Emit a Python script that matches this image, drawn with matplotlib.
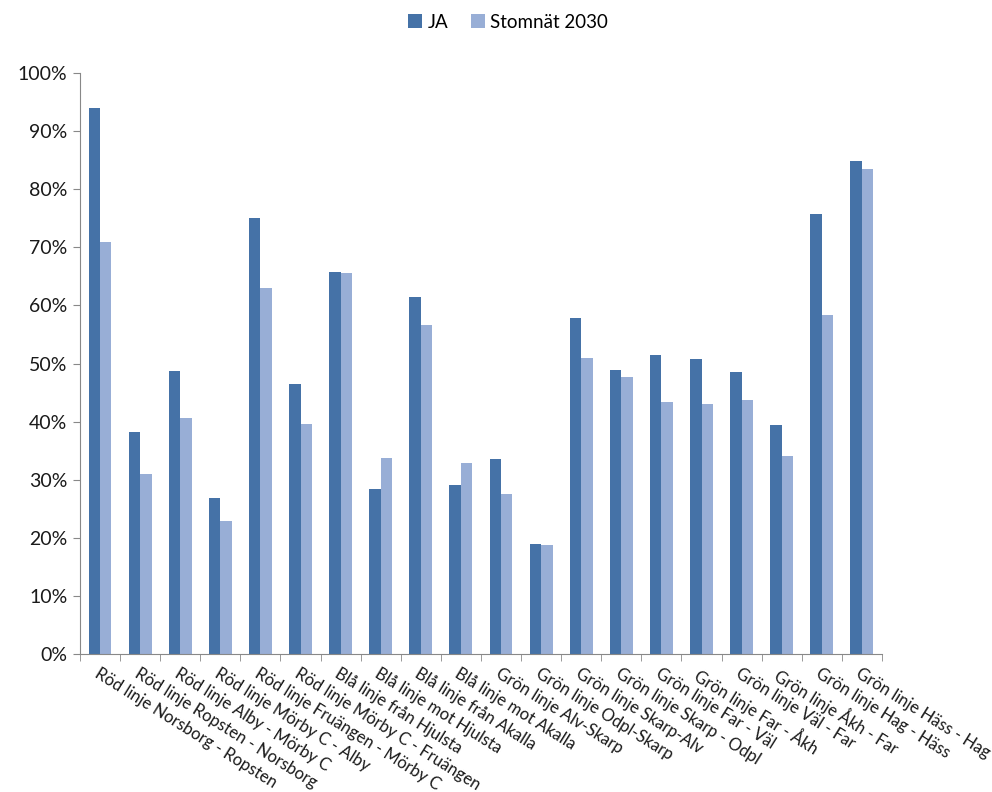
import matplotlib.pyplot as plt
import numpy as np
from matplotlib.ticker import PercentFormatter, FixedLocator

# Data
categories = [
    "Röd linje Norsborg - Ropsten",
    "Röd linje Ropsten - Norsborg",
    "Röd linje Alby - Mörby C",
    "Röd linje Mörby C - Alby",
    "Röd linje Fruängen - Mörby C",
    "Röd linje Mörby C - Fruängen",
    "Blå linje från Hjulsta",
    "Blå linje mot Hjulsta",
    "Blå linje från Akalla",
    "Blå linje mot Akalla",
    "Grön linje Alv-Skarp",
    "Grön linje Odpl-Skarp",
    "Grön linje Skarp-Alv",
    "Grön linje Skarp - Odpl",
    "Grön linje Far - Väl",
    "Grön linje Far - Åkh",
    "Grön linje Väl - Far",
    "Grön linje Åkh - Far",
    "Grön linje Hag - Häss",
    "Grön linje Häss - Hag",
]
ja = [94.0, 38.2, 48.7, 26.8, 75.0, 46.4, 65.7, 28.4, 61.5, 29.1,
      33.5, 18.9, 57.8, 48.9, 51.4, 50.8, 48.5, 39.4, 75.7, 84.9]
stomnat = [71.0, 31.0, 40.7, 22.9, 63.0, 39.6, 65.5, 33.8, 56.6, 32.8,
           27.6, 18.7, 51.0, 47.7, 43.4, 43.1, 43.8, 34.0, 58.4, 83.4]

plt.rcParams['font.family'] = ['Lato', 'DejaVu Sans']

fig = plt.figure(figsize=(9.92, 7.92), dpi=100)
ax = fig.add_axes([0.0806, 0.1742, 0.8085, 0.7336])

x = np.arange(len(categories))
w = 0.286
ax.bar(x - w / 2, np.array(ja) / 100, w, color='#4572A7', label='JA')
ax.bar(x + w / 2, np.array(stomnat) / 100, w, color='#98AED6', label='Stomnät 2030')

ax.set_xlim(-0.5, len(categories) - 0.5)
ax.set_ylim(0, 1)
ax.set_yticks(np.arange(0, 1.01, 0.1))
ax.yaxis.set_major_formatter(PercentFormatter(1.0, decimals=0))

# labels at centres, tick marks between categories
ax.set_xticks(x)
ax.set_xticklabels(categories, rotation=-32, ha='left', va='top',
                   rotation_mode='anchor', fontsize=12, color='#1a1a1a')
ax.xaxis.set_minor_locator(FixedLocator(np.arange(-0.5, len(categories), 1)))
ax.tick_params(axis='x', which='major', length=0, pad=8)
ax.tick_params(axis='x', which='minor', length=5, color='#888888')
ax.tick_params(axis='y', length=5, color='#888888', labelsize=14,
               labelcolor='#1a1a1a', pad=4)

for s in ['top', 'right']:
    ax.spines[s].set_visible(False)
for s in ['left', 'bottom']:
    ax.spines[s].set_color('#888888')

fig.legend(loc='center', bbox_to_anchor=(0.512, 0.972), ncol=2, frameon=False,
           fontsize=13.5, handlelength=0.75, handleheight=0.75, handletextpad=0.3,
           columnspacing=1.2)

fig.savefig('out.png', dpi=100)
